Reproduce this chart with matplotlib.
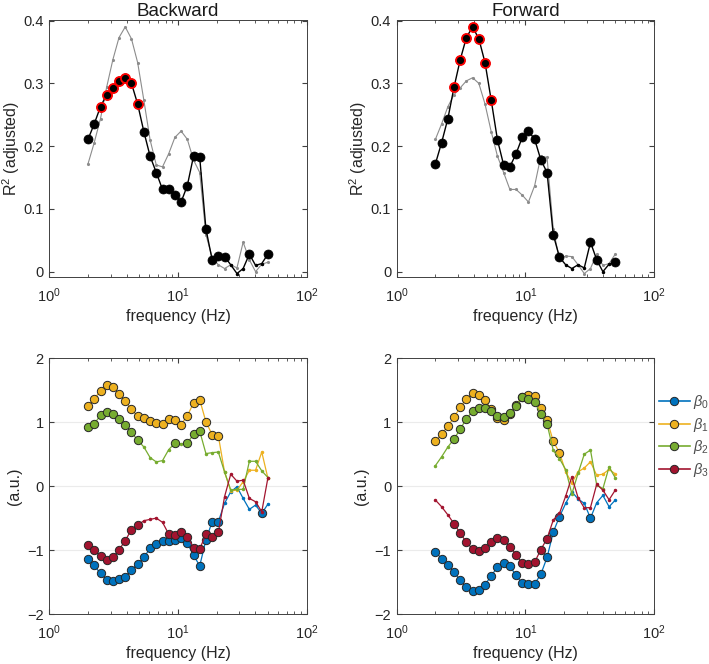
from __future__ import annotations

import matplotlib

matplotlib.use("Agg")
import matplotlib.pyplot as plt
from matplotlib.lines import Line2D

plt.rcParams["font.family"] = ["Liberation Sans", "DejaVu Sans"]
plt.rcParams["mathtext.fontset"] = "custom"
plt.rcParams["mathtext.rm"] = "Liberation Sans"
plt.rcParams["mathtext.it"] = "Liberation Sans:italic"

# log-spaced frequency grid (Hz), 2 .. 50
freq = [2.00, 2.23, 2.50, 2.79, 3.12, 3.48, 3.89, 4.35, 4.86, 5.43,
        6.07, 6.78, 7.58, 8.47, 9.46, 10.57, 11.81, 13.20, 14.75, 16.48,
        18.42, 20.58, 22.99, 25.69, 28.71, 32.08, 35.85, 40.06, 44.76, 50.00]

# adjusted R^2
r2_backward = [0.211, 0.235, 0.263, 0.282, 0.293, 0.304, 0.309, 0.300, 0.267, 0.223,
               0.184, 0.158, 0.131, 0.131, 0.122, 0.111, 0.137, 0.184, 0.182, 0.068,
               0.019, 0.025, 0.024, 0.011, -0.003, 0.005, 0.028, 0.010, 0.013, 0.028]
r2_forward = [0.172, 0.205, 0.244, 0.294, 0.338, 0.373, 0.390, 0.371, 0.333, 0.273,
              0.210, 0.170, 0.167, 0.188, 0.214, 0.224, 0.211, 0.178, 0.158, 0.059,
              0.023, 0.011, 0.005, 0.011, 0.006, 0.047, 0.019, 0.000, 0.012, 0.015]
r2_backward_sig = list(range(0, 23)) + [26, 29]
r2_backward_best = list(range(2, 9))
r2_forward_sig = list(range(0, 21)) + [25, 26, 29]
r2_forward_best = list(range(3, 10))

# model coefficients (a.u.), backward
b0_backward = [-1.142, -1.241, -1.366, -1.464, -1.485, -1.459, -1.417, -1.308, -1.220, -1.116,
               -0.970, -0.900, -0.865, -0.855, -0.835, -0.805, -0.890, -1.080, -1.246, -0.841,
               -0.556, -0.556, -0.270, -0.088, -0.010, -0.192, -0.363, -0.296, -0.426, -0.280]
b1_backward = [1.256, 1.366, 1.490, 1.584, 1.547, 1.449, 1.334, 1.200, 1.095, 1.060,
               1.022, 0.984, 0.976, 1.054, 1.030, 0.964, 1.100, 1.300, 1.352, 1.006,
               0.805, 0.787, 0.223, -0.073, -0.062, 0.067, 0.249, 0.249, 0.534, 0.120]
b2_backward = [0.919, 0.976, 1.106, 1.153, 1.121, 1.049, 0.961, 0.840, 0.720, 0.613,
               0.447, 0.379, 0.400, 0.571, 0.675, 0.660, 0.672, 0.812, 0.860, 0.509,
               0.524, 0.534, 0.223, -0.062, -0.050, -0.050, 0.389, 0.389, 0.239, 0.135]
b3_backward = [-0.919, -0.997, -1.100, -1.163, -1.116, -0.997, -0.852, -0.680, -0.615, -0.540,
               -0.520, -0.500, -0.566, -0.750, -0.770, -0.720, -0.790, -0.965, -0.980, -0.755,
               -0.792, -0.725, -0.166, 0.187, 0.078, 0.093, -0.192, -0.244, -0.400, 0.135]
b0_backward_sig = list(range(0, 22)) + [28]
b1_backward_sig = list(range(0, 22))
b2_backward_sig = list(range(0, 9)) + [14, 16, 17, 18]
b3_backward_sig = list(range(0, 9)) + list(range(13, 22))

# model coefficients (a.u.), forward
b0_forward = [-1.028, -1.132, -1.236, -1.345, -1.475, -1.584, -1.641, -1.625, -1.542, -1.402,
              -1.267, -1.205, -1.251, -1.397, -1.522, -1.537, -1.532, -1.376, -1.116, -0.717,
              -0.478, -0.270, -0.088, -0.200, -0.270, -0.500, -0.260, -0.145, -0.322, -0.218]
b1_forward = [0.706, 0.815, 0.940, 1.080, 1.236, 1.366, 1.454, 1.433, 1.345, 1.205,
              1.070, 1.038, 1.121, 1.277, 1.392, 1.428, 1.407, 1.225, 1.038, 0.700,
              0.524, 0.225, 0.050, 0.223, 0.285, 0.380, 0.171, 0.187, 0.262, 0.192]
b2_forward = [0.322, 0.457, 0.613, 0.737, 0.893, 1.054, 1.173, 1.220, 1.220, 1.168,
              1.090, 1.080, 1.142, 1.251, 1.392, 1.371, 1.314, 1.132, 0.971, 0.560,
              0.430, 0.260, -0.120, 0.200, 0.500, 0.565, 0.020, -0.040, 0.300, 0.130]
b3_forward = [-0.218, -0.320, -0.450, -0.587, -0.737, -0.877, -0.981, -1.007, -0.961, -0.877,
              -0.815, -0.846, -0.945, -1.070, -1.210, -1.220, -1.189, -0.992, -0.820, -0.530,
              -0.426, -0.156, 0.145, -0.180, -0.340, -0.334, 0.028, -0.062, -0.213, -0.062]
b0_forward_sig = list(range(0, 21)) + [25]
b1_forward_sig = list(range(0, 21))
b2_forward_sig = list(range(3, 19))
b3_forward_sig = list(range(3, 19))

beta_labels = [r"$\beta_0$", r"$\beta_1$", r"$\beta_2$", r"$\beta_3$"]
beta_colors = ["#0072BD", "#EDB120", "#77AC30", "#A2142F"]

FIG_W, FIG_H = 709, 664
EDGE = "#262626"


def px_axes(fig, left, top, right, bottom):
    return fig.add_axes([left / FIG_W, 1 - bottom / FIG_H,
                         (right - left) / FIG_W, (bottom - top) / FIG_H])


def style_axes(ax):
    ax.set_xscale("log")
    ax.set_xlim(1, 100)
    for sp in ax.spines.values():
        sp.set_color("0.25")
        sp.set_linewidth(0.7)
    ax.tick_params(which="both", direction="in", top=True, right=True,
                   colors="0.25", labelcolor="0.15", labelsize=10.5)
    ax.tick_params(which="major", length=3.5)
    ax.tick_params(which="minor", length=2)
    ax.tick_params(axis="x", which="major", pad=7)
    ax.tick_params(axis="y", which="major", pad=4)
    ax.set_xlabel("frequency (Hz)", fontsize=11.5, color="0.15", labelpad=3)


def pick(seq, idx):
    return [seq[i] for i in idx]


def draw_r2(ax, main, other, sig, best, title):
    ax.plot(freq, other, "-", color="0.55", lw=0.8, marker=".", ms=2.5)
    ax.plot(freq, main, "-", color="black", lw=1.0, marker=".", ms=3)
    ax.plot(pick(freq, sig), pick(main, sig), "o", color="black", ms=6.5,
            mec="black", mew=0.5)
    ax.plot(pick(freq, best), pick(main, best), "o", color="black", ms=6.5,
            mec="red", mew=1.3)
    style_axes(ax)
    ax.set_ylim(-0.008, 0.401)
    ax.set_yticks([0, 0.1, 0.2, 0.3, 0.4])
    ax.set_yticklabels(["0", "0.1", "0.2", "0.3", "0.4"])
    ax.set_ylabel(r"R$^2$ (adjusted)", fontsize=11.5, color="0.15", labelpad=1)
    ax.set_title(title, fontsize=13.5, color="0.1", pad=3)


def draw_betas(ax, series, sigs):
    for y in (-1, 0, 1):
        ax.axhline(y, color="0.92", lw=0.8, zorder=0)
    for vals, sig, col in zip(series, sigs, beta_colors):
        ax.plot(freq, vals, "-", color=col, lw=0.9, marker=".", ms=3)
        ax.plot(pick(freq, sig), pick(vals, sig), "o", color=col, ms=6,
                mec=EDGE, mew=0.7)
    style_axes(ax)
    ax.set_ylim(-2, 2)
    ax.set_yticks([-2, -1, 0, 1, 2])
    ax.set_ylabel("(a.u.)", fontsize=11.5, color="0.15", labelpad=4)


def main() -> None:
    fig = plt.figure(figsize=(FIG_W / 100, FIG_H / 100), dpi=100)

    ax_tl = px_axes(fig, 49.3, 20, 306.7, 276.7)
    ax_tr = px_axes(fig, 396.7, 20, 654, 276.7)
    ax_bl = px_axes(fig, 49.3, 358.3, 306.7, 614)
    ax_br = px_axes(fig, 396.7, 358.3, 654, 614)

    draw_r2(ax_tl, r2_backward, r2_forward, r2_backward_sig, r2_backward_best, "Backward")
    draw_r2(ax_tr, r2_forward, r2_backward, r2_forward_sig, r2_forward_best, "Forward")

    draw_betas(ax_bl, [b0_backward, b1_backward, b2_backward, b3_backward],
               [b0_backward_sig, b1_backward_sig, b2_backward_sig, b3_backward_sig])
    draw_betas(ax_br, [b0_forward, b1_forward, b2_forward, b3_forward],
               [b0_forward_sig, b1_forward_sig, b2_forward_sig, b3_forward_sig])

    handles = [Line2D([], [], color=c, lw=1.2, marker="o", ms=6, mfc=c, mec=EDGE, mew=0.7)
               for c in beta_colors]
    ax_br.legend(handles, beta_labels, loc="center left", bbox_to_anchor=(1.02, 0.696),
                 frameon=False, fontsize=10.5, handlelength=2.1, labelspacing=0.32,
                 borderaxespad=0.0, borderpad=0.0, handletextpad=0.2, labelcolor="0.3")

    fig.savefig("out.png", dpi=100)
    plt.close(fig)


if __name__ == "__main__":
    main()
